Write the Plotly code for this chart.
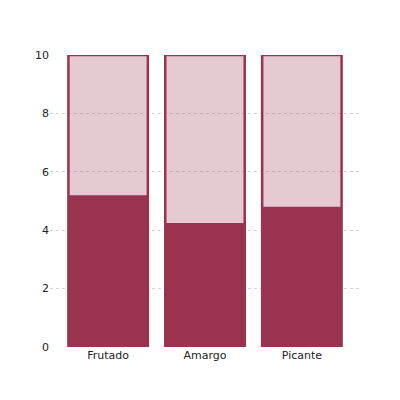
import plotly.graph_objects as go

# data
categories = ["Frutado", "Amargo", "Picante"]
values = [5.2, 4.25, 4.8]
max_score = [10, 10, 10]

RED = "#993350"

fig = go.Figure()

# full-scale background bars (outlined, translucent)
fig.add_trace(go.Bar(
    x=categories, y=max_score, width=0.82,
    marker=dict(color="rgba(153,51,80,0.26)", line=dict(color=RED, width=2.5)),
    showlegend=False, hoverinfo="skip",
))

# actual scores
fig.add_trace(go.Bar(
    x=categories, y=values, width=0.82,
    marker=dict(color=RED, line=dict(width=0)),
    showlegend=False,
))

# page body adds ~8px offset, so margins are trimmed on top/left
fig.update_layout(
    width=400, height=400,
    barmode="overlay",
    plot_bgcolor="white", paper_bgcolor="white",
    margin=dict(l=42, r=48, t=47, b=61),
    font=dict(family="DejaVu Sans", size=11, color="#222"),
)
fig.update_xaxes(range=[-0.6, 2.6], showgrid=False, showline=False, ticks="")
fig.update_yaxes(
    range=[0, 10], tickvals=[0, 2, 4, 6, 8, 10],
    showgrid=True, gridcolor="#d4d4d4", griddash="dot", gridwidth=1,
    zeroline=False, showline=False, ticks="",
)

fig.write_html("out.html")
